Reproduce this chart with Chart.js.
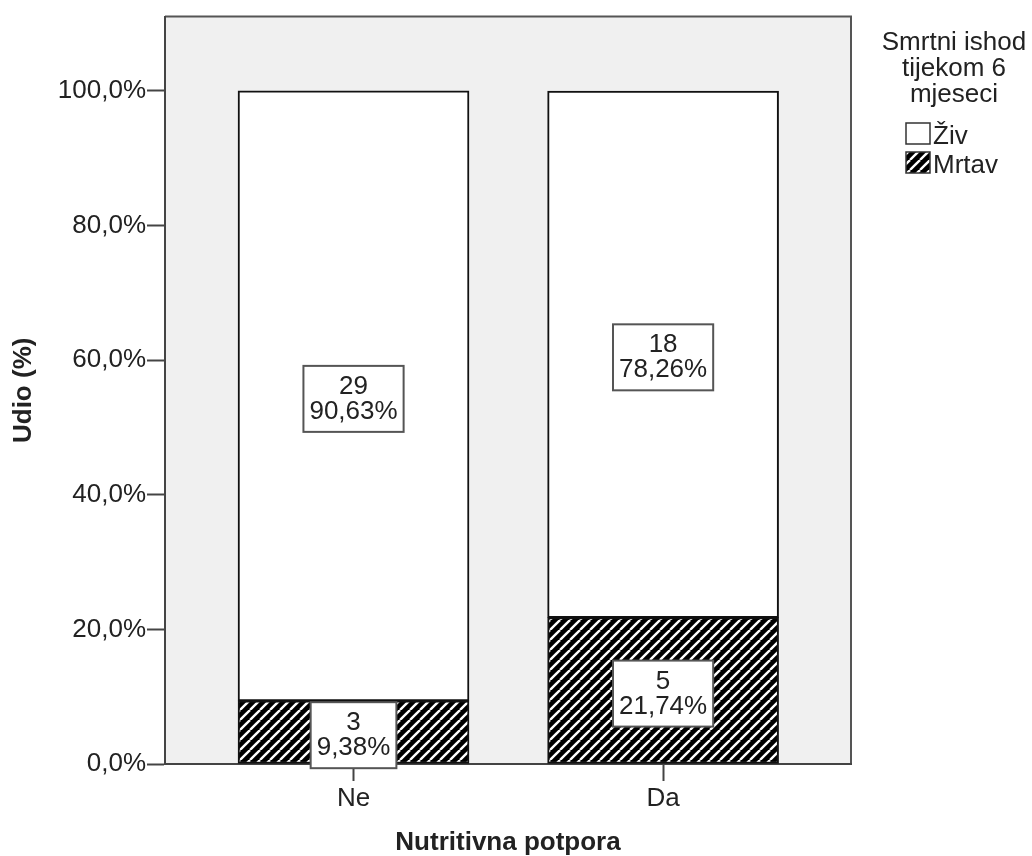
<!DOCTYPE html>
<html>
<head>
<meta charset="utf-8">
<script src="https://cdn.jsdelivr.net/npm/chart.js@4.4.1/dist/chart.umd.min.js"></script>
<style>
  html, body { margin: 0; padding: 0; background: #fff; }
  #wrap { width: 1032px; height: 856px; position: relative; }
</style>
</head>
<body>
<div id="wrap"><canvas id="outcomeChart"></canvas></div>
<script>
// values
const categories = ['Ne', 'Da'];
const aliveLabel = 'Živ';
const deadLabel = 'Mrtav';
const aliveCount = [29, 18];
const alivePct = [90.63, 78.26];
const deadCount = [3, 5];
const deadPct = [9.38, 21.74];
const yTicks = [0, 20, 40, 60, 80, 100];
const legendTitle = ['Smrtni ishod', 'tijekom 6', 'mjeseci'];

const FONT = '"Liberation Sans", Arial, sans-serif';
const ink = '#222';

// black with thin white "/" stripes
function makeHatch() {
  const s = 10;
  const c = document.createElement('canvas');
  c.width = s; c.height = s;
  const g = c.getContext('2d');
  g.fillStyle = '#000';
  g.fillRect(0, 0, s, s);
  g.strokeStyle = '#fff';
  g.lineWidth = 2.4;
  [-s, 0, s].forEach(o => {
    g.beginPath();
    g.moveTo(o, s);
    g.lineTo(o + s, 0);
    g.stroke();
  });
  return g.createPattern(c, 'repeat');
}

const fmtPct = v => v.toFixed(2).replace('.', ',') + '%';

// gray plot background + top/right frame
const plotFrame = {
  id: 'plotFrame',
  beforeDraw(chart) {
    const {ctx, chartArea: a} = chart;
    ctx.save();
    ctx.fillStyle = '#f0f0f0';
    ctx.fillRect(a.left, a.top, a.right - a.left, a.bottom - a.top);
    ctx.strokeStyle = '#555';
    ctx.lineWidth = 2;
    ctx.beginPath();
    ctx.moveTo(a.left, a.top);
    ctx.lineTo(a.right, a.top);
    ctx.lineTo(a.right, a.bottom);
    ctx.stroke();
    ctx.restore();
  }
};

// boxed count + percent in the middle of each segment
const boxLabels = {
  id: 'boxLabels',
  afterDatasetsDraw(chart) {
    const ctx = chart.ctx;
    ctx.save();
    ctx.font = '26px ' + FONT;
    ctx.textAlign = 'center';
    ctx.textBaseline = 'middle';
    chart.data.datasets.forEach((ds, di) => {
      const meta = chart.getDatasetMeta(di);
      meta.data.forEach((bar, i) => {
        const lines = [String(ds.counts[i]), fmtPct(ds.data[i].y)];
        const w = Math.max(...lines.map(t => ctx.measureText(t).width)) + 12;
        const h = 66;
        const cx = bar.x;
        const cy = (bar.y + bar.base) / 2 + 3;
        ctx.fillStyle = '#fff';
        ctx.fillRect(cx - w / 2, cy - h / 2, w, h);
        ctx.strokeStyle = '#555';
        ctx.lineWidth = 2;
        ctx.strokeRect(cx - w / 2, cy - h / 2, w, h);
        ctx.fillStyle = ink;
        ctx.fillText(lines[0], cx, cy - 12);
        ctx.fillText(lines[1], cx, cy + 13);
      });
    });
    ctx.restore();
  }
};

// legend at the right, Živ first
const sideLegend = {
  id: 'sideLegend',
  afterDraw(chart) {
    const ctx = chart.ctx;
    ctx.save();
    ctx.font = '26px ' + FONT;
    ctx.fillStyle = ink;
    ctx.textAlign = 'center';
    ctx.textBaseline = 'alphabetic';
    legendTitle.forEach((t, i) => ctx.fillText(t, 954, 50 + i * 26));
    [1, 0].forEach((di, k) => {
      const ds = chart.data.datasets[di];
      const y = 123 + k * 29;
      ctx.fillStyle = ds.backgroundColor;
      ctx.fillRect(906, y, 24, 21);
      ctx.strokeStyle = '#333';
      ctx.lineWidth = 1.5;
      ctx.strokeRect(906, y, 24, 21);
      ctx.fillStyle = ink;
      ctx.textAlign = 'left';
      ctx.fillText(ds.label, 933, y + 21);
    });
    ctx.restore();
  }
};

const ctx = document.getElementById('outcomeChart').getContext('2d');
new Chart(ctx, {
  type: 'bar',
  data: {
    datasets: [{
      label: deadLabel,
      data: categories.map((c, i) => ({x: i, y: deadPct[i]})),
      counts: deadCount,
      backgroundColor: makeHatch(),
      borderColor: '#111',
      borderWidth: 2,
      borderSkipped: false,
      barThickness: 231
    }, {
      label: aliveLabel,
      data: categories.map((c, i) => ({x: i, y: alivePct[i]})),
      counts: aliveCount,
      backgroundColor: '#fff',
      borderColor: '#111',
      borderWidth: 2,
      borderSkipped: false,
      barThickness: 231
    }]
  },
  options: {
    responsive: true,
    maintainAspectRatio: false,
    animation: false,
    layout: { padding: { left: 0, top: 15, right: 181, bottom: 0 } },
    plugins: {
      legend: { display: false },
      tooltip: { enabled: false }
    },
    scales: {
      x: {
        type: 'linear',
        stacked: true,
        offset: false,
        min: -0.609,
        max: 1.607,
        afterBuildTicks: axis => { axis.ticks = categories.map((c, i) => ({value: i})); },
        afterFit: scale => { scale.height = 92; },
        ticks: {
          callback: v => categories[v],
          color: ink,
          font: { family: FONT, size: 26 },
          padding: 2,
          maxRotation: 0
        },
        grid: { offset: false, drawOnChartArea: false, drawTicks: true, tickLength: 17, tickWidth: 2, tickColor: '#444' },
        border: { display: true, color: '#444', width: 2 },
        title: {
          display: true,
          text: 'Nutritivna potpora',
          color: ink,
          font: { family: FONT, size: 26, weight: 'bold', lineHeight: 1 },
          padding: { top: 0, bottom: 0 }
        }
      },
      y: {
        stacked: true,
        min: 0,
        max: 111.05,
        afterBuildTicks: axis => { axis.ticks = yTicks.map(v => ({value: v})); },
        afterFit: scale => { scale.width = 165; },
        ticks: {
          callback: v => v.toFixed(1).replace('.', ',') + '%',
          color: ink,
          font: { family: FONT, size: 26 },
          padding: 1
        },
        grid: { drawOnChartArea: false, drawTicks: true, tickLength: 18, tickWidth: 2, tickColor: '#444' },
        border: { display: true, color: '#444', width: 2 },
        title: {
          display: true,
          text: 'Udio (%)',
          color: ink,
          font: { family: FONT, size: 26, weight: 'bold', lineHeight: 1.2 },
          padding: { top: 8, bottom: 0 }
        }
      }
    }
  },
  plugins: [plotFrame, boxLabels, sideLegend]
});
</script>
</body>
</html>
